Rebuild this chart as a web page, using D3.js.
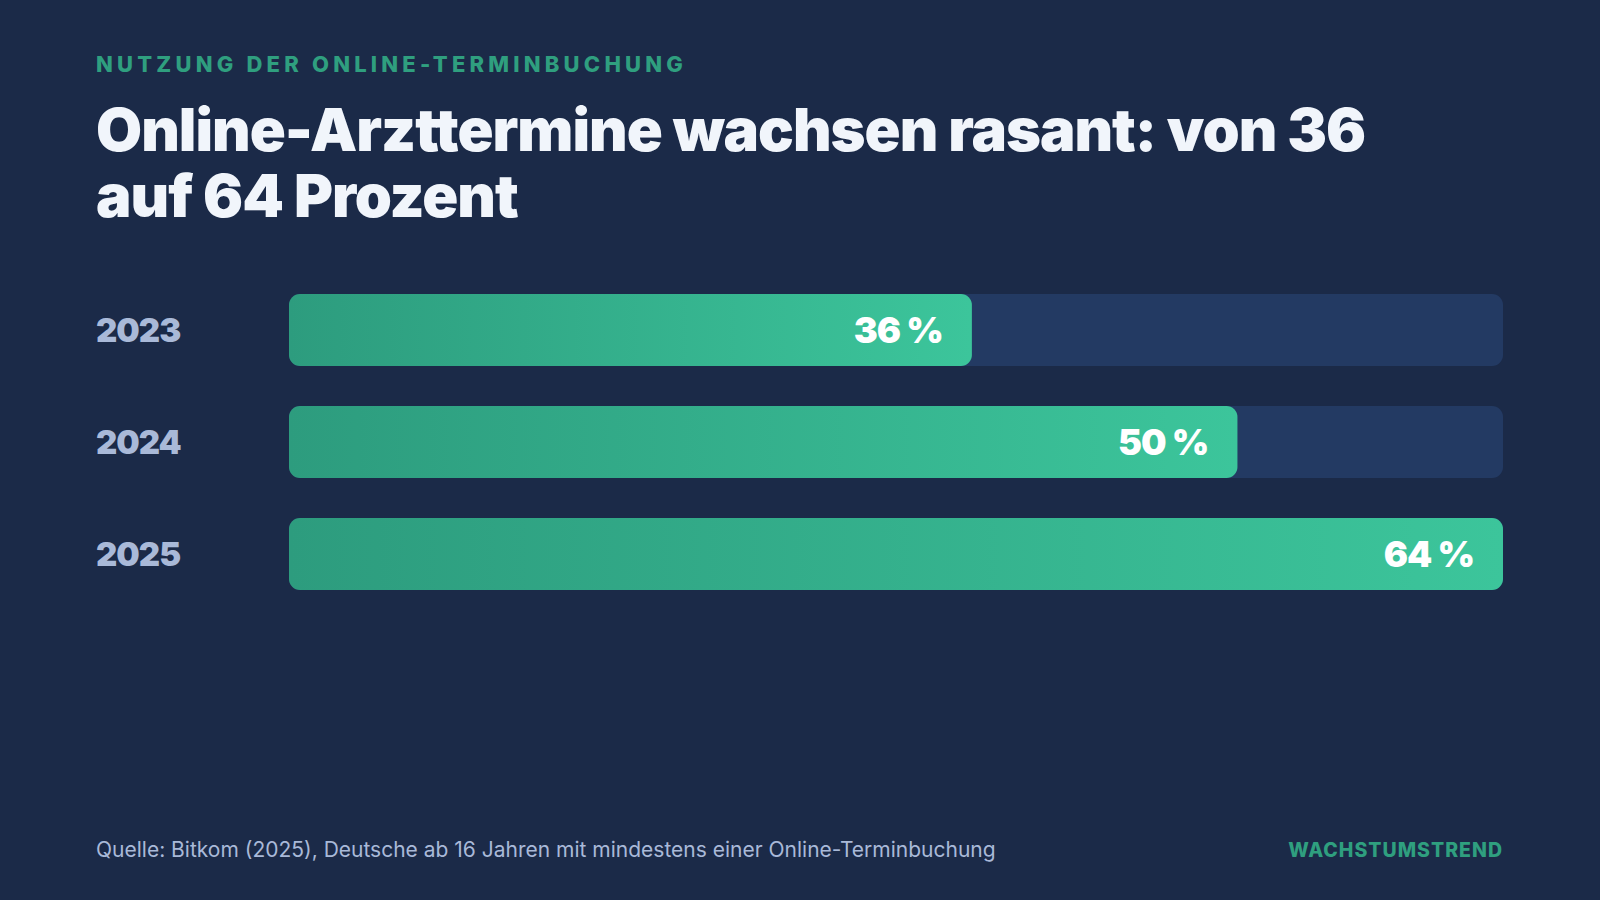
<!DOCTYPE html>
<html>
<head>
<meta charset="utf-8">
<script src="https://cdn.jsdelivr.net/npm/d3@7"></script>
<style>
  html, body { margin: 0; padding: 0; background: #1b2a48; }
  svg { display: block; }
  text { font-family: Inter, "Open Sans", sans-serif; }
</style>
</head>
<body>
<svg id="chart"></svg>
<script>
var W = 1600, H = 900;

// data
var years = ["2023", "2024", "2025"];
var shares = [36, 50, 64];
var kicker = "NUTZUNG DER ONLINE-TERMINBUCHUNG";
var titleLines = ["Online-Arzttermine wachsen rasant: von 36", "auf 64 Prozent"];
var source = "Quelle: Bitkom (2025), Deutsche ab 16 Jahren mit mindestens einer Online-Terminbuchung";
var brand = "WACHSTUMSTREND";

var left = 96, trackX0 = 289, trackX1 = 1503;

var svg = d3.select("#chart").attr("width", W).attr("height", H);

svg.append("rect").attr("width", W).attr("height", H).attr("fill", "#1b2a48");

var defs = svg.append("defs");
var grad = defs.append("linearGradient").attr("id", "barGrad")
    .attr("x1", "0%").attr("x2", "100%").attr("y1", "0%").attr("y2", "0%");
grad.append("stop").attr("offset", "0%").attr("stop-color", "#2d9c7e");
grad.append("stop").attr("offset", "100%").attr("stop-color", "#3cc59b");

svg.append("text")
    .attr("x", left).attr("y", 72)
    .attr("fill", "#2f9f7f")
    .attr("font-size", 22).attr("font-weight", 800)
    .attr("letter-spacing", 4.2)
    .text(kicker);

svg.append("g").selectAll("text")
    .data(titleLines)
  .enter().append("text")
    .attr("x", left)
    .attr("y", function(d, i) { return 151 + i * 66; })
    .attr("fill", "#f1f5fb")
    .attr("font-size", 59.5).attr("font-weight", 900)
    .attr("letter-spacing", -1)
    .text(function(d) { return d; });

var x = d3.scaleLinear().domain([0, d3.max(shares)]).range([trackX0, trackX1]);
var y = d3.scaleBand().domain(years).range([294, 590]).paddingInner(40 / 112).paddingOuter(0);

var rows = svg.append("g").selectAll("g")
    .data(years)
  .enter().append("g")
    .attr("transform", function(d) { return "translate(0," + y(d) + ")"; });

rows.append("rect")
    .attr("x", trackX0).attr("width", trackX1 - trackX0)
    .attr("height", y.bandwidth())
    .attr("rx", 11)
    .attr("fill", "#233a63");

rows.append("rect")
    .attr("x", trackX0)
    .attr("width", function(d, i) { return x(shares[i]) - trackX0; })
    .attr("height", y.bandwidth())
    .attr("rx", 11)
    .attr("fill", "url(#barGrad)");

rows.append("text")
    .attr("x", left)
    .attr("y", y.bandwidth() / 2)
    .attr("dy", "0.36em")
    .attr("fill", "#a9b9d8")
    .attr("font-size", 33).attr("font-weight", 900)
    .attr("letter-spacing", -1)
    .text(function(d) { return d; });

rows.append("text")
    .attr("x", function(d, i) { return x(shares[i]) - 29; })
    .attr("y", y.bandwidth() / 2)
    .attr("dy", "0.36em")
    .attr("text-anchor", "end")
    .attr("fill", "#ffffff")
    .attr("font-size", 36).attr("font-weight", 900)
    .attr("letter-spacing", -1)
    .text(function(d, i) { return shares[i] + " %"; });

svg.append("text")
    .attr("x", left).attr("y", 857)
    .attr("fill", "#a9b9d8")
    .attr("font-size", 21)
    .text(source);

svg.append("text")
    .attr("x", trackX1).attr("y", 857)
    .attr("text-anchor", "end")
    .attr("fill", "#2f9f7f")
    .attr("font-size", 19.5).attr("font-weight", 800)
    .attr("letter-spacing", 1)
    .text(brand);
</script>
</body>
</html>
